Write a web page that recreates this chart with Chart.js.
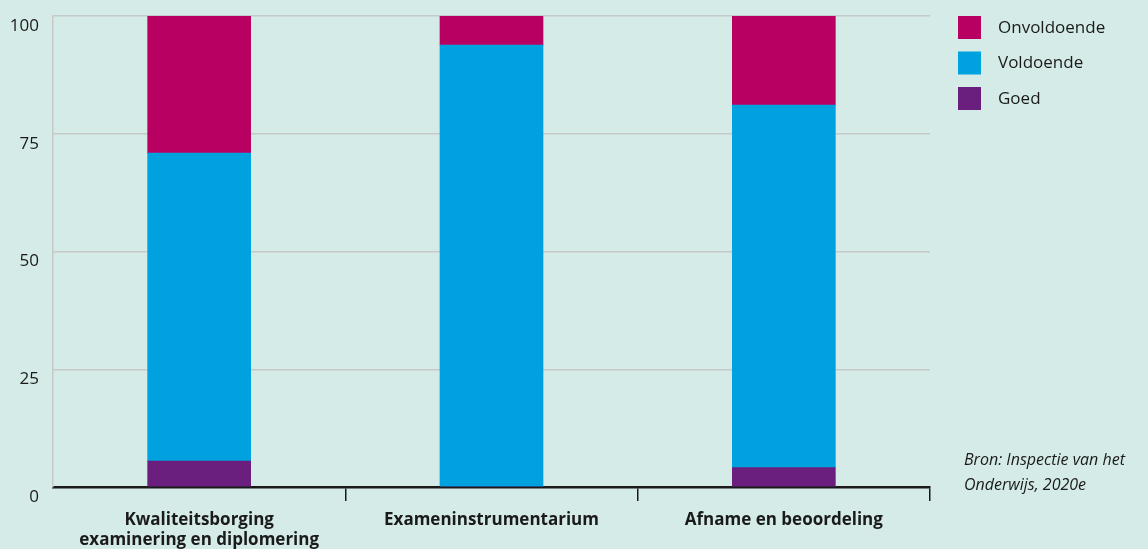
<!DOCTYPE html>
<html>
<head>
<meta charset="utf-8">
<script src="https://cdn.jsdelivr.net/npm/chart.js@4"></script>
<style>
  html, body { margin:0; padding:0; background:#d4ebe7; }
  #wrap { width:1148px; height:549px; position:relative; }
</style>
</head>
<body>
<div id="wrap"><canvas id="chart" width="1148" height="549"></canvas></div>
<script>
// data (percentages)
var categories = [
	["Kwaliteitsborging", "examinering en diplomering"],
	"Exameninstrumentarium",
	"Afname en beoordeling"
];
var goed = [5.5, 0, 4.1];
var voldoende = [65.4, 93.8, 77.0];
var onvoldoende = [29.1, 6.2, 18.9];
var yTicks = [0, 25, 50, 75, 100];
var sourceLines = ["Bron: Inspectie van het", "Onderwijs, 2020e"];

var FONT = "'Open Sans', sans-serif";
var INK = "#1a1a1a";

// background colour behind everything
var bgPlugin = {
	id: "bg",
	beforeDraw: function(chart) {
		var ctx = chart.ctx;
		ctx.save();
		ctx.fillStyle = "#d4ebe7";
		ctx.fillRect(0, 0, chart.width, chart.height);
		ctx.restore();
	}
};

// legend (top first) and source note at the right
var sidePlugin = {
	id: "side",
	afterDraw: function(chart) {
		var ctx = chart.ctx;
		var sets = chart.data.datasets;
		ctx.save();
		ctx.textBaseline = "middle";
		ctx.textAlign = "left";
		ctx.font = "17px " + FONT;
		var row = 0;
		for (var i = sets.length - 1; i >= 0; i--) {
			var y = 16 + row * 35.5;
			ctx.fillStyle = sets[i].backgroundColor;
			ctx.fillRect(958, y, 23, 23);
			ctx.fillStyle = INK;
			ctx.fillText(sets[i].label, 998, y + 12);
			row++;
		}
		ctx.font = "italic 16px " + FONT;
		for (var j = 0; j < sourceLines.length; j++) {
			ctx.fillText(sourceLines[j], 964, 460 + j * 25);
		}
		ctx.restore();
	}
};

new Chart(document.getElementById("chart"), {
	type: "bar",
	data: {
		labels: categories,
		datasets: [
			{ label: "Goed", data: goed, backgroundColor: "#6a1f7f" },
			{ label: "Voldoende", data: voldoende, backgroundColor: "#00a1df" },
			{ label: "Onvoldoende", data: onvoldoende, backgroundColor: "#b80063" }
		]
	},
	options: {
		responsive: false,
		animation: false,
		layout: { padding: { top: 16, right: 218, left: 0, bottom: 0 } },
		datasets: { bar: { barThickness: 103, borderWidth: 0 } },
		plugins: {
			legend: { display: false },
			tooltip: { enabled: false }
		},
		scales: {
			x: {
				stacked: true,
				offset: true,
				grid: {
					offset: true,
					drawOnChartArea: false,
					drawTicks: true,
					tickLength: 14,
					lineWidth: 1.5,
					color: function(c) { return c.index === 0 ? "rgba(0,0,0,0)" : "#1a1a1a"; }
				},
				border: { color: "#1a1a1a", width: 2.5 },
				ticks: {
					color: INK,
					padding: 9,
					maxRotation: 0,
					font: { family: FONT, size: 17, weight: "bold", lineHeight: 1.2 }
				},
				afterFit: function(axis) { axis.height = 62; }
			},
			y: {
				stacked: true,
				min: 0,
				max: 100,
				afterBuildTicks: function(axis) {
					axis.ticks = yTicks.map(function(v) { return { value: v }; });
				},
				grid: {
					drawTicks: false,
					color: "#c5cac8",
					lineWidth: 1.5
				},
				border: { color: "#c5cac8", width: 1.5 },
				ticks: {
					color: INK,
					padding: 14,
					labelOffset: 10,
					font: { family: FONT, size: 17 }
				},
				afterFit: function(axis) {
					axis.width = 53;
					axis.paddingTop = 0;
					axis.paddingBottom = 0;
				}
			}
		}
	},
	plugins: [bgPlugin, sidePlugin]
});
</script>
</body>
</html>
